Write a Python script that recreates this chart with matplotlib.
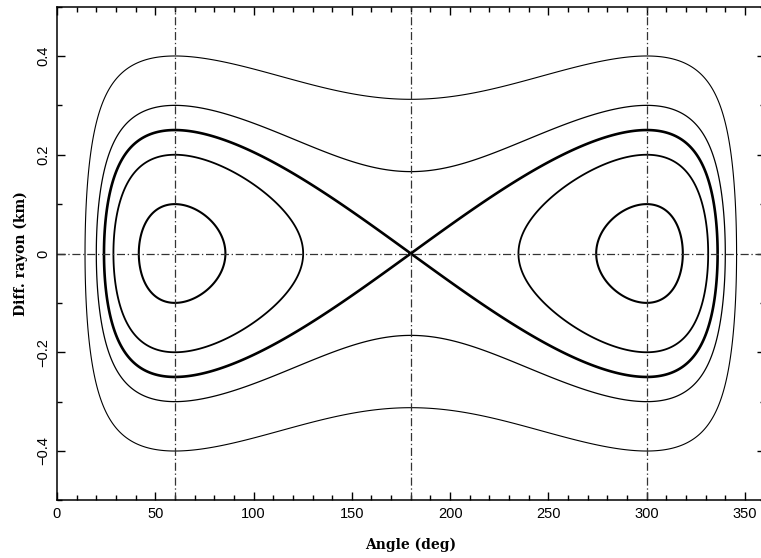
import numpy as np
import matplotlib
matplotlib.use("Agg")
import matplotlib.pyplot as plt
from matplotlib.ticker import MultipleLocator

# Orbit families: half-width (km) of each curve at the L4/L5 angles (60/300 deg)
level_amplitudes = [0.10, 0.20, 0.25, 0.30, 0.40]
level_widths = [1.5, 1.3, 1.9, 0.9, 0.8]
# Angle of the L3, L4, L5 reference lines (deg)
ref_angles = [60, 180, 300]
# separatrix amplitude at L4 fixes the potential strength
separatrix_amp = 0.25

xticks = [0, 50, 100, 150, 200, 250, 300, 350]
yticks = [-0.4, -0.2, 0, 0.2, 0.4]
ytick_labels = ["\u22120.4", "\u22120.2", "0", "0.2", "0.4"]

fig = plt.figure(figsize=(7.61, 5.58), dpi=100)
ax = fig.add_axes([57/761, 1-500.4/558, (764.6-57)/761, (500.4-6.6)/558])

# co-orbital averaged potential R(phi) = 1/(2 sin(phi/2)) - cos(phi)
th = np.linspace(0.5, 359.5, 3000)
yy = np.linspace(-0.5, 0.5, 1500)
TH, YY = np.meshgrid(th, yy)
phi = np.radians(TH)
R = 1.0/(2*np.sin(phi/2)) - np.cos(phi)
k = (separatrix_amp**2) / 1.0   # R(180)-R(60) = 1
H = YY**2 + k*R
for amp, lw in zip(level_amplitudes, level_widths):
    lev = amp**2 + k*0.5
    ax.contour(TH, YY, H, levels=[lev], colors="black", linewidths=lw)

dash = (0, (9*0.72, 3*0.72, 1.5*0.72, 3*0.72))
for a in ref_angles:
    ax.axvline(a, color="#333333", lw=0.9, linestyle=dash)
ax.axhline(0, color="#333333", lw=0.9, linestyle=dash)

ax.set_xlim(0, 360)
ax.set_ylim(-0.5, 0.5)
ax.set_xticks(xticks)
ax.set_xticklabels([str(t) for t in xticks])
ax.set_yticks(yticks)
ax.set_yticklabels(ytick_labels, rotation=90, va="center")
ax.xaxis.set_minor_locator(MultipleLocator(10))
ax.yaxis.set_minor_locator(MultipleLocator(0.1))
ax.tick_params(which="both", direction="in", top=True, right=True, width=1)
ax.tick_params(which="major", length=6, labelsize=10.5, pad=5)
ax.tick_params(which="minor", length=3.5)
for lab in ax.get_xticklabels() + ax.get_yticklabels():
    lab.set_family("Liberation Sans")
for s in ax.spines.values():
    s.set_linewidth(1.1)

ax.set_xlabel("Angle (deg)", family="DejaVu Serif", fontweight="bold", fontsize=10, labelpad=12)
ax.set_ylabel("Diff. rayon (km)", family="DejaVu Serif", fontweight="bold", fontsize=10, labelpad=6)

fig.savefig("out.png", dpi=100)
